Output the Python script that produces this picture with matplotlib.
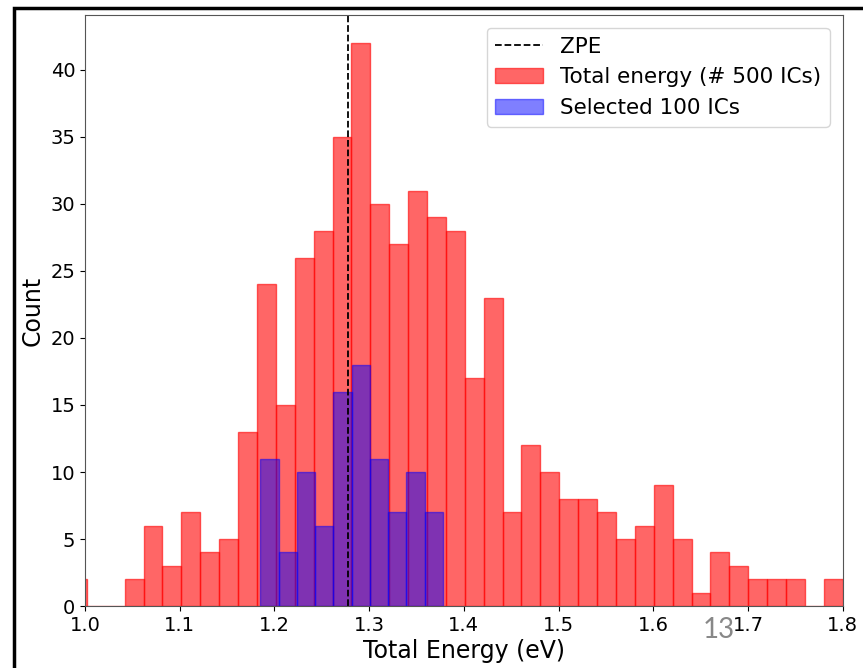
import numpy as np
import matplotlib.pyplot as plt
from matplotlib.patches import Rectangle

# histogram counts per bin, all initial conditions
total_edges = np.linspace(0.982, 1.8, 42)
total_counts = [2, 0, 0, 2, 6, 3, 7, 4, 5, 13,
                24, 15, 26, 28, 35, 42, 30, 27, 31, 29,
                28, 17, 23, 7, 12, 10, 8, 8, 7, 5,
                6, 9, 5, 1, 4, 3, 2, 2, 2, 0, 2]

# selected subset, binned over its own range
sel_edges = np.linspace(1.185, 1.378, 11)
sel_counts = [11, 4, 10, 6, 16, 18, 11, 7, 10, 7]

zpe = 1.278

fig = plt.figure(figsize=(8.63, 6.68), dpi=100)
ax = fig.add_axes([0.0985, 0.0928, 0.878, 0.8847])

ax.axvline(zpe, color='black', linestyle='--', linewidth=1.3, label='ZPE')
ax.hist(total_edges[:-1], bins=total_edges, weights=total_counts,
        color='red', edgecolor='red', alpha=0.6, label='Total energy (# 500 ICs)')
ax.hist(sel_edges[:-1], bins=sel_edges, weights=sel_counts,
        color='blue', edgecolor='blue', alpha=0.5, label='Selected 100 ICs')

ax.set_xlim(1.0, 1.8)
ax.set_ylim(0, 44.1)
ax.set_xticks(np.arange(1.0, 1.81, 0.1))
ax.set_xlabel('Total Energy (eV)', fontsize=17, labelpad=3)
ax.set_ylabel('Count', fontsize=17, labelpad=4)
ax.tick_params(labelsize=14)
for s in ax.spines.values():
    s.set_color('#555555')

handles, labels = ax.get_legend_handles_labels()
ax.legend(handles, labels, fontsize=15.5, loc='upper right',
          handlelength=2.2, borderaxespad=0.6)

# frame around the figure and page number
fig.patches.append(Rectangle((14 / 863, -0.1), 1.2, (660 / 668) + 0.1,
                             transform=fig.transFigure, fill=False,
                             edgecolor='black', linewidth=2.5))
fig.text(0.833, 0.057, '13', fontsize=20, color='#888888',
         family='Lato', ha='center', va='center')

fig.savefig('out.png', dpi=100)
